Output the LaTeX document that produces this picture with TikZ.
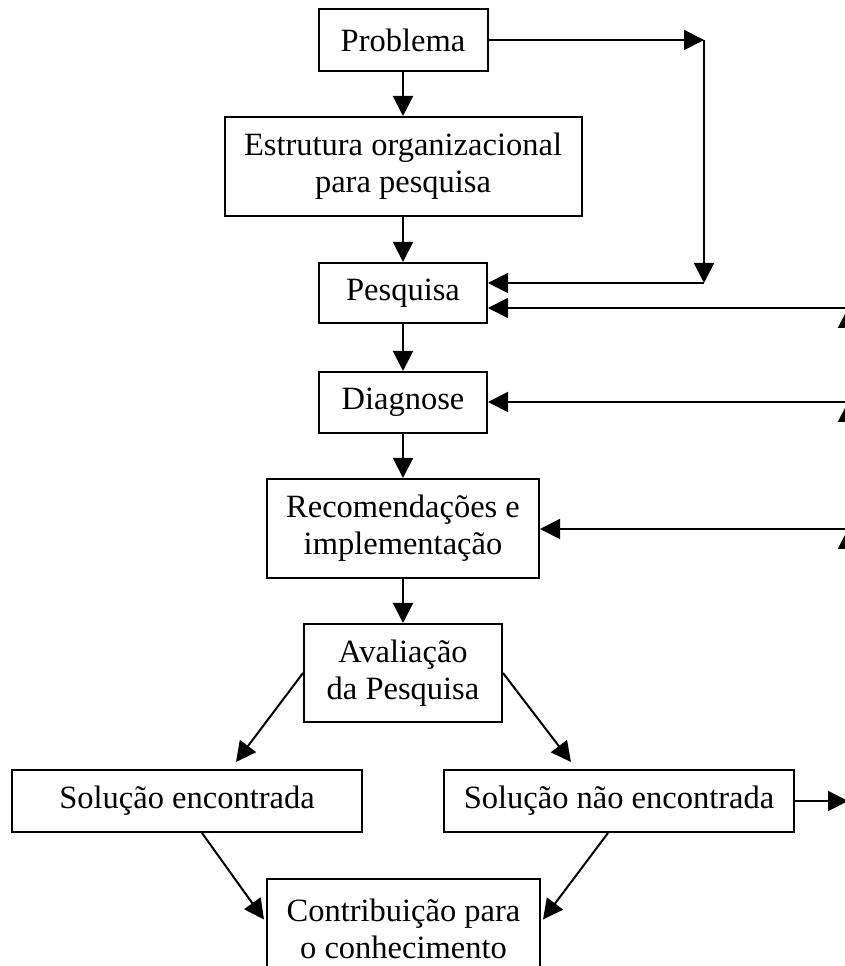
\documentclass[tikz,border=0pt]{standalone}
\usepackage{fontspec}
\setmainfont{Liberation Serif}
\usetikzlibrary{arrows.meta,calc}

\begin{document}
\begin{tikzpicture}[x=1pt, y=1pt, line width=2pt,
  caixa/.style={draw, inner sep=0pt, align=center, font=\fontsize{32.5}{37}\selectfont},
  seta/.style={-{Triangle[length=20pt,width=20pt]}}]
% page = 845 x 966, the right and bottom edges cut the figure
\useasboundingbox (0,0) rectangle (845,966);
\clip (0,0) rectangle (845,966);
\node[caixa, minimum width=169pt, minimum height=62pt] (prob)    at (403,926)   {Problema};
\node[caixa, minimum width=357pt, minimum height=99pt] (estr)    at (403,799.5) {Estrutura organizacional\\para pesquisa};
\node[caixa, minimum width=168pt, minimum height=60pt] (pesq)    at (403,673)   {Pesquisa};
\node[caixa, minimum width=168pt, minimum height=61pt] (diag)    at (403,563.5) {Diagnose};
\node[caixa, minimum width=272pt, minimum height=99pt] (recom)   at (403,437.5) {Recomendações e\\implementação};
\node[caixa, minimum width=198pt, minimum height=98pt] (aval)    at (403,293)   {Avaliação\\da Pesquisa};
\node[caixa, minimum width=350pt, minimum height=62pt] (solsim)  at (187,165)   {Solução encontrada};
\node[caixa, minimum width=350pt, minimum height=62pt] (solnao)  at (619,165)   {Solução não encontrada};
\node[caixa, minimum width=273pt, minimum height=99pt] (contrib) at (403.5,37.5) {Contribuição para\\o conhecimento};
% retornos
\coordinate (canto) at (704,926);
\coordinate (meio)  at (704,683);
\coordinate (ret1)  at (848,658);
\coordinate (ret2)  at (848,564);
\coordinate (ret3)  at (848,437);
\coordinate (ret4)  at (848,165);
% fluxo principal
\draw[seta] (prob) -- (estr);
\draw[seta] (estr) -- (pesq);
\draw[seta] (pesq) -- (diag);
\draw[seta] (diag) -- (recom);
\draw[seta] (recom) -- (aval);
\draw[seta] (aval.west) -- ($(solsim.north)+(49,7)$);
\draw[seta] (aval.east) -- ($(solnao.north)+(-48,7)$);
\draw[seta] ($(solsim.south)+(15,0)$) -- ($(contrib.west)+(-2,9)$);
\draw[seta] ($(solnao.south)+(-11,0)$) -- ($(contrib.east)+(2,9)$);
% desvio direto para a pesquisa
\draw[seta] (prob.east) -- (canto);
\draw[seta] (canto) -- (meio);
\draw[seta] (meio) -- (meio -| pesq.east);
% laco de volta
\draw[seta] (solnao.east) -- (ret4);
\draw[seta] (ret4) -- (ret3);
\draw[seta] (ret3) -- (ret2);
\draw[seta] (ret2) -- (ret1);
\draw[seta] (ret1) -- (ret1 -| pesq.east);
\draw[seta] (ret2) -- (ret2 -| diag.east);
\draw[seta] (ret3) -- (ret3 -| recom.east);
\end{tikzpicture}
\end{document}
